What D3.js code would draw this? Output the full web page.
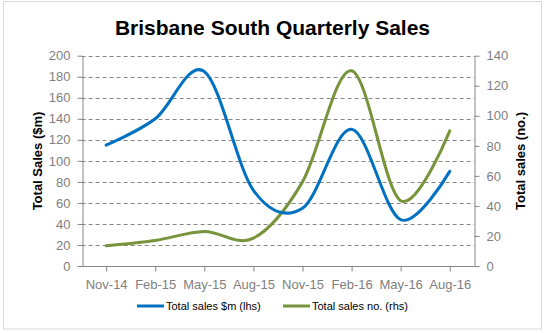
<!DOCTYPE html>
<html>
<head>
<meta charset="utf-8">
<script src="https://cdn.jsdelivr.net/npm/d3@7"></script>
<style>
  html, body { margin: 0; padding: 0; background: #fff; }
  svg { display: block; font-family: Arial, "Liberation Sans", sans-serif; }
</style>
</head>
<body>
<svg id="chart" width="546" height="333"></svg>
<script>
const categories = ["Nov-14", "Feb-15", "May-15", "Aug-15", "Nov-15", "Feb-16", "May-16", "Aug-16"];
const salesValue = [115, 140, 185, 72, 55, 130, 44, 90];   // Total sales $m (lhs)
const salesCount = [13.5, 17, 23, 18.5, 56, 130, 43.5, 90]; // Total sales no. (rhs)
const leftTicks = [0, 20, 40, 60, 80, 100, 120, 140, 160, 180, 200];
const rightTicks = [0, 20, 40, 60, 80, 100, 120, 140];
const seriesNames = ["Total sales $m (lhs)", "Total sales no. (rhs)"];
const title = "Brisbane South Quarterly Sales";
const leftTitle = "Total Sales ($m)";
const rightTitle = "Total sales (no.)";

const svg = d3.select("#chart");
const m = { left: 81.6, right: 474.3, top: 55.7, bottom: 266 };
const axisColor = "#868686";
const labelColor = "#808080";
const blue = "#0070C0";
const green = "#77933C";

// border
svg.append("rect").attr("x", 3.5).attr("y", 1.5).attr("width", 538).attr("height", 327.5)
  .attr("fill", "#fff").attr("stroke", "#d9d9d9").attr("stroke-width", 1);

const x = d3.scalePoint().domain(categories).range([m.left, m.right]).padding(0.5);
const yL = d3.scaleLinear().domain([0, 200]).range([m.bottom, m.top]);
const yR = d3.scaleLinear().domain([0, 140]).range([m.bottom, m.top]);

// gridlines
svg.append("g").selectAll("line").data(leftTicks.filter(d => d > 0)).join("line")
  .attr("x1", m.left).attr("x2", m.right)
  .attr("y1", d => Math.round(yL(d)) + 0.5).attr("y2", d => Math.round(yL(d)) + 0.5)
  .attr("stroke", axisColor).attr("stroke-width", 1).attr("stroke-dasharray", "4,3");

// left axis
const gL = svg.append("g").attr("transform", `translate(${Math.round(m.left) + 0.5},0)`)
  .call(d3.axisLeft(yL).tickValues(leftTicks).tickSize(5).tickPadding(7).tickSizeOuter(0));
// right axis
const gR = svg.append("g").attr("transform", `translate(${Math.round(m.right) + 0.5},0)`)
  .call(d3.axisRight(yR).tickValues(rightTicks).tickSize(5).tickPadding(7).tickSizeOuter(0));
// bottom axis
const gB = svg.append("g").attr("transform", `translate(0,${Math.round(m.bottom) + 0.5})`)
  .call(d3.axisBottom(x).tickSize(5).tickPadding(8).tickSizeOuter(0));

[gL, gR, gB].forEach(g => {
  g.select(".domain").attr("stroke", axisColor);
  g.selectAll(".tick line").attr("stroke", axisColor);
  g.selectAll(".tick text").attr("fill", labelColor).attr("font-size", 13)
    .attr("font-family", "Arial, 'Liberation Sans', sans-serif");
});
gB.select(".domain").attr("d", `M${m.left},0H${m.right}`);

// lines
const curve = d3.curveCardinal.tension(0);
const lineL = d3.line().x((d, i) => x(categories[i])).y(d => yL(d)).curve(curve);
const lineR = d3.line().x((d, i) => x(categories[i])).y(d => yR(d)).curve(curve);

svg.append("path").datum(salesCount).attr("d", lineR)
  .attr("fill", "none").attr("stroke", green).attr("stroke-width", 3).attr("stroke-linecap", "round");
svg.append("path").datum(salesValue).attr("d", lineL)
  .attr("fill", "none").attr("stroke", blue).attr("stroke-width", 3).attr("stroke-linecap", "round");

// title
svg.append("text").attr("x", 272.5).attr("y", 34.5).attr("text-anchor", "middle")
  .attr("font-size", 21).attr("font-weight", "bold").attr("fill", "#000").text(title);

// axis titles
svg.append("text").attr("transform", `translate(42,161) rotate(-90)`).attr("text-anchor", "middle")
  .attr("font-size", 13).attr("font-weight", "bold").attr("fill", "#000").text(leftTitle);
svg.append("text").attr("transform", `translate(525,161) rotate(-90)`).attr("text-anchor", "middle")
  .attr("font-size", 13).attr("font-weight", "bold").attr("fill", "#000").text(rightTitle);

// legend
const legend = [
  { name: seriesNames[0], color: blue, x: 137 },
  { name: seriesNames[1], color: green, x: 283 }
];
const lg = svg.append("g");
legend.forEach(l => {
  lg.append("line").attr("x1", l.x).attr("x2", l.x + 27).attr("y1", 306).attr("y2", 306)
    .attr("stroke", l.color).attr("stroke-width", 3);
  lg.append("text").attr("x", l.x + 29).attr("y", 310).attr("font-size", 11)
    .attr("fill", "#000").text(l.name);
});
</script>
</body>
</html>
